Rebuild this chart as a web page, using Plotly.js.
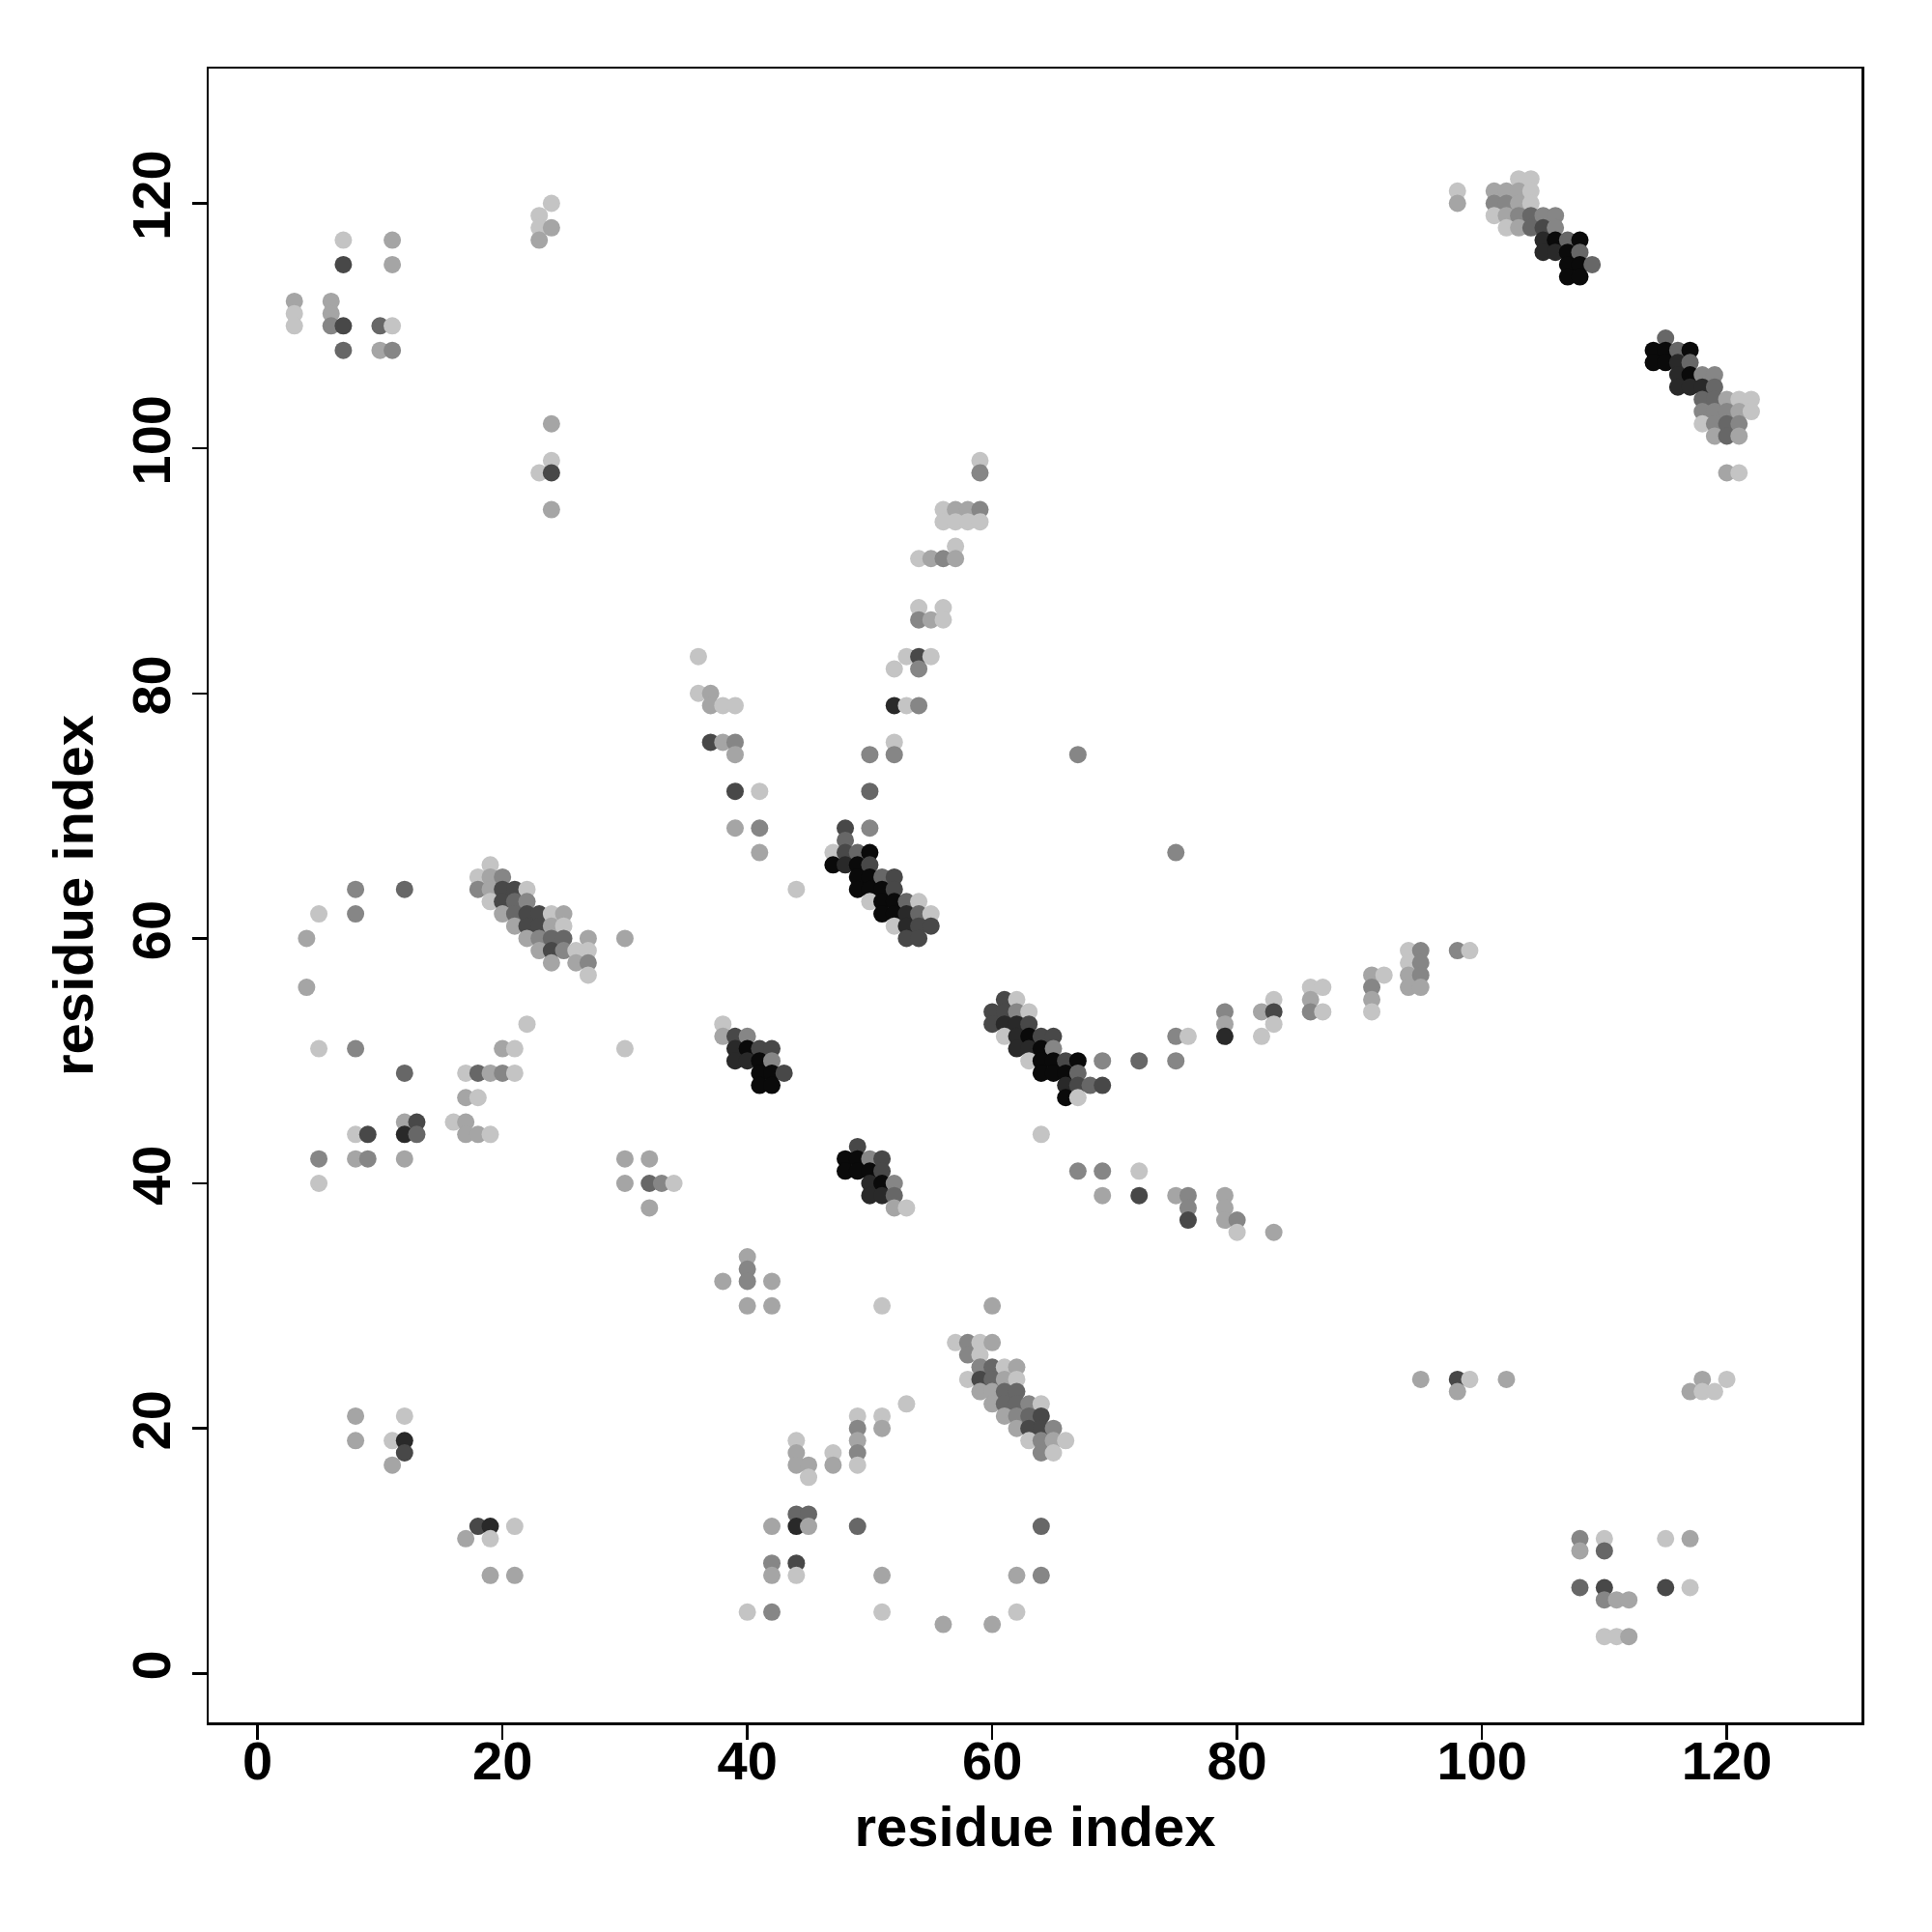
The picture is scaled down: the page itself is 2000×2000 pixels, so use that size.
<!DOCTYPE html>
<html>
<head>
<meta charset="utf-8">
<script src="https://cdn.plot.ly/plotly-3.0.1.min.js"></script>
<style>html,body{margin:0;padding:0;background:#fff;}#chart{width:2000px;height:2000px;}</style>
</head>
<body>
<div id="chart"></div>
<script>
// residue i (x), residue j (y), contact strength level (1 = weak/light ... 7 = strong/black)
const resX = [
  7,11,7,11,3,3,3,6,6,6,7,10,11,7,10,11, 24,23,23,24,23,24,24,23,24,24,
  98,98, 103,104, 101,102,103,104, 101,102,103,104, 101,102,103,104,105,106, 102,103,104,105,106, 105,106,107,108, 105,106,107,108, 107,108,109, 107,108,
  115, 114,115,116,117, 114,115,116,117, 116,117,118,119, 116,117,118,119, 118,119,120,121,122, 118,119,120,121,122, 118,119,120,121, 119,120,121, 120,121,
  59,59, 56,57,58,59, 56,57,58,59, 57, 54,55,56,57, 54,56, 54,55,56, 53,54,55, 52,54, 52,53,54, 52,52,50, 50, 50,48,
  36,36,37, 37,38,39, 37,38,39,39, 39,41, 39,41,41, 44,
  48, 47,48,49,50, 47,48,49,50, 49,50,51,52, 49,50,51,52, 50,51,52,53,54, 51,52,53,54,55, 52,53,54,55, 53,54,
  8,12,5,8,4,4,5,8,12, 8,9,12,13,12,13, 5,8,9,12,5, 16,17,17,18,19, 17,18, 17,18,19,20,21, 20,21,22, 30,30, 30,32,30,32,33,34,32,
  19, 18,19,20, 18,19,20,21,22, 19,20,21,22, 20,21,22,23,24,25, 21,22,23,24,25, 22,23,24,25,27, 23,24,25,26,27, 24,26,27, 27,
  38,38,39,40, 39,40,41,42, 39,40,41,42, 41,42,43, 41,42,
  49, 48,49,50,51, 48,49,50,51, 50,51,52, 50,51,52, 52,53,
  61,62, 60,61,62,63, 60,61,62,63, 61,62,63,64,65, 62,63,64,65, 63,64,65,66,67, 64,65,66,67, 66,67,68,69, 66,67,
  69,72,75, 75,76, 79,79,79, 82,83,83,83,82, 86,87,86,86,87, 91,92,91,91,91, 94,95,94,95,94,95,94,95, 98,99, 64, 67,69,72, 69,72,75,76,79, 76,79, 76,79,80, 80,83, 67,75,
  8,12,8,11,12,12,11, 18,19,21,17,19,19,21,
  40,40,40,38,42,40,42, 44,44,44,45,45,47,47, 42,44,45,44,45, 42,44,42,44,40,42, 49,49,49,49,49,51,51,53, 49,64,51,62,64,51,62,56,60, 51,60,
  57,58,59,60, 58,59, 59,60,61,62, 58,59,60,61,62, 59,60,61,62, 60,61,62,63,64, 61,62,63,64, 62,63,64,65, 63,64,65,66, 64,65,
  95,98,99,98,102, 118,120,117,118,119, 108,110,115,117, 108,110, 108,110,115,117, 110,111,112, 110,111,112
];
const resY = [
  117,117,115,115,112,111,110,112,111,110,110,110,110,108,108,108, 120,119,118,118,117,102,99,98,98,95,
  121,120, 122,122, 121,121,121,121, 120,120,120,120, 119,119,119,119,119,119, 118,118,118,118,118, 117,117,117,117, 116,116,116,116, 115,115,115, 114,114,
  109, 108,108,108,108, 107,107,107,107, 106,106,106,106, 105,105,105,105, 104,104,104,104,104, 103,103,103,103,103, 102,102,102,102, 101,101,101, 98,98,
  99,98, 95,95,95,95, 94,94,94,94, 92, 91,91,91,91, 87,87, 86,86,86, 83,83,83, 82,82, 79,79,79, 76,75,75, 72, 69,69,
  83,80,80, 79,79,79, 76,76,76,75, 72,72, 69,69,67, 64,
  68, 67,67,67,67, 66,66,66,66, 65,65,65,65, 64,64,64,64, 63,63,63,63,63, 62,62,62,62,62, 61,61,61,61, 60,60,
  64,64,62,62,60,56,51,51,49, 44,44,45,45,44,44, 42,42,42,42,40, 45,45,44,44,44, 47,47, 49,49,49,49,49, 51,51,53, 51,60, 42,42,40,40,40,40,38,
  66, 65,65,65, 64,64,64,64,64, 63,63,63,63, 62,62,62,62,62,62, 61,61,61,61,61, 60,60,60,60,60, 59,59,59,59,59, 58,58,58, 57,
  53,52,52,52, 51,51,51,51, 50,50,50,50, 49,49,49, 48,48,
  43, 42,42,42,42, 41,41,41,41, 40,40,40, 39,39,39, 38,38,
  55,55, 54,54,54,54, 53,53,53,53, 52,52,52,52,52, 51,51,51,51, 50,50,50,50,50, 49,49,49,49, 48,48,48,48, 47,47,
  50,50,50, 52,52, 54,53,52, 54,55,54,53,52, 56,56,55,54,54, 57,57,56,55,54, 59,59,58,58,57,57,56,56, 59,59, 44, 41,41,41, 39,39,39,39,39, 38,38, 37,37,37, 36,36, 75,67,
  21,21,19,19,19,18,17, 12,12,12,11,11,8,8,
  34,33,32,32,32,30,30, 19,18,17,17,16,18,17, 12,13,13,12,12, 9,9,8,8,5,5, 21,20,19,18,17,21,20,22, 12,12,8,8,8,5,5,4,4, 30,30,
  27,27,27,27, 26,26, 25,25,25,25, 24,24,24,24,24, 23,23,23,23, 22,22,22,22,22, 21,21,21,21, 20,20,20,20, 19,19,19,19, 18,18,
  24,24,24,23,24, 24,24,23,23,23, 11,11,11,11, 10,10, 7,7,7,7, 6,6,6, 3,3,3
];
const level = [
  1,2,5,2,2,1,1,2,2,3,5,4,1,4,2,3, 1,1,1,2,2,2,1,1,5,2,
  1,2, 1,1, 2,2,2,1, 3,3,2,1, 1,2,3,4,3,3, 1,2,4,5,3, 6,7,4,7, 6,6,7,4, 7,7,4, 7,7,
  4, 7,7,4,7, 7,7,6,4, 6,7,3,3, 6,6,6,4, 4,4,2,1,1, 3,3,3,2,1, 1,3,4,3, 2,4,2, 2,1,
  1,3, 1,2,2,3, 1,1,1,1, 1, 1,2,3,2, 1,1, 3,2,1, 1,5,1, 1,3, 6,1,3, 1,3,3, 4, 3,5,
  1,1,2, 2,1,1, 5,2,3,2, 5,1, 2,3,2, 1,
  4, 1,5,4,7, 7,6,7,5, 7,7,4,5, 7,7,7,5, 1,7,7,4,1, 7,7,6,4,1, 1,6,5,5, 5,5,
  3,4,1,3,2,2,1,3,4, 1,5,2,5,6,4, 3,2,3,2,1, 1,2,2,2,1, 2,1, 1,4,2,3,1, 2,1,1, 1,2, 2,2,2,4,3,1,2,
  1, 1,2,3, 3,2,5,5,1, 1,5,4,3, 2,4,5,5,1,2, 2,5,5,2,1, 2,3,4,4,2, 2,5,3,1,1, 2,2,3, 1,
  1,2,5,3, 6,7,5,5, 6,6,7,3, 7,7,5, 7,7,
  5, 7,7,3,5, 7,7,7,5, 6,7,3, 6,6,4, 2,1,
  5,1, 5,5,3,1, 5,6,6,5, 1,6,7,5,5, 6,6,7,3, 1,7,7,5,7, 7,7,7,4, 6,5,4,5, 7,1,
  3,4,3, 3,1, 3,2,6, 2,1,5,1,1, 1,1,2,3,1, 2,1,3,2,1, 1,3,1,3,2,3,2,2, 3,1, 1, 3,3,1, 2,5,2,3,2, 3,2, 5,2,3, 1,2, 3,3,
  2,1,2,1,6,5,2, 5,6,1,2,1,2,2,
  2,3,3,2,2,2,2, 1,2,2,2,1,1,2, 2,4,4,6,2, 3,5,2,1,1,3, 1,3,2,3,1,1,2,1, 4,4,2,2,3,1,1,2,2, 1,2,
  1,3,1,2, 3,1, 3,4,1,2, 1,5,4,2,1, 2,2,4,4, 2,4,4,3,1, 2,3,4,5, 2,5,5,3, 1,3,2,1, 3,1,
  2,5,1,2,2, 2,1,2,1,1, 3,1,1,2, 2,4, 4,5,5,1, 3,2,2, 1,1,2
];
const tickVals = [0, 20, 40, 60, 80, 100, 120];
const axisLabel = 'residue index';

if (resX.length !== resY.length || resX.length !== level.length) {
  console.error('length mismatch', resX.length, resY.length, level.length);
}

const fontFam = 'Liberation Sans, Arial, Helvetica, sans-serif';
const trace = {
  type: 'scatter', mode: 'markers', x: resX, y: resY,
  marker: {
    size: 18, color: level, cmin: 1, cmax: 7, showscale: false,
    colorscale: [[0, 'rgb(196,196,196)'], [1, 'rgb(10,10,10)']],
    line: {width: 0}
  },
  hoverinfo: 'x+y'
};

const axisCommon = {
  showgrid: false, zeroline: false,
  showline: true, mirror: true, linecolor: '#000', linewidth: 2.5,
  ticks: 'outside', ticklen: 15, tickwidth: 2.5, tickcolor: '#000',
  tickvals: tickVals,
  tickfont: {family: fontFam, size: 56, color: '#000', weight: 'bold'},
  range: [-4, 131], fixedrange: true
};

const layout = {
  width: 2000, height: 2000,
  margin: {l: 216, r: 73, t: 71, b: 217},
  paper_bgcolor: '#fff', plot_bgcolor: '#fff',
  showlegend: false,
  xaxis: Object.assign({}, axisCommon, {
    ticklabelstandoff: -26,
    title: {text: axisLabel, font: {family: fontFam, size: 58, color: '#000', weight: 'bold'}, standoff: 18}
  }),
  yaxis: Object.assign({}, axisCommon, {
    tickangle: -90,
    title: {text: axisLabel, font: {family: fontFam, size: 58, color: '#000', weight: 'bold'}, standoff: 10}
  })
};

Plotly.newPlot('chart', [trace], layout, {displayModeBar: false, staticPlot: true});
</script>
</body>
</html>
